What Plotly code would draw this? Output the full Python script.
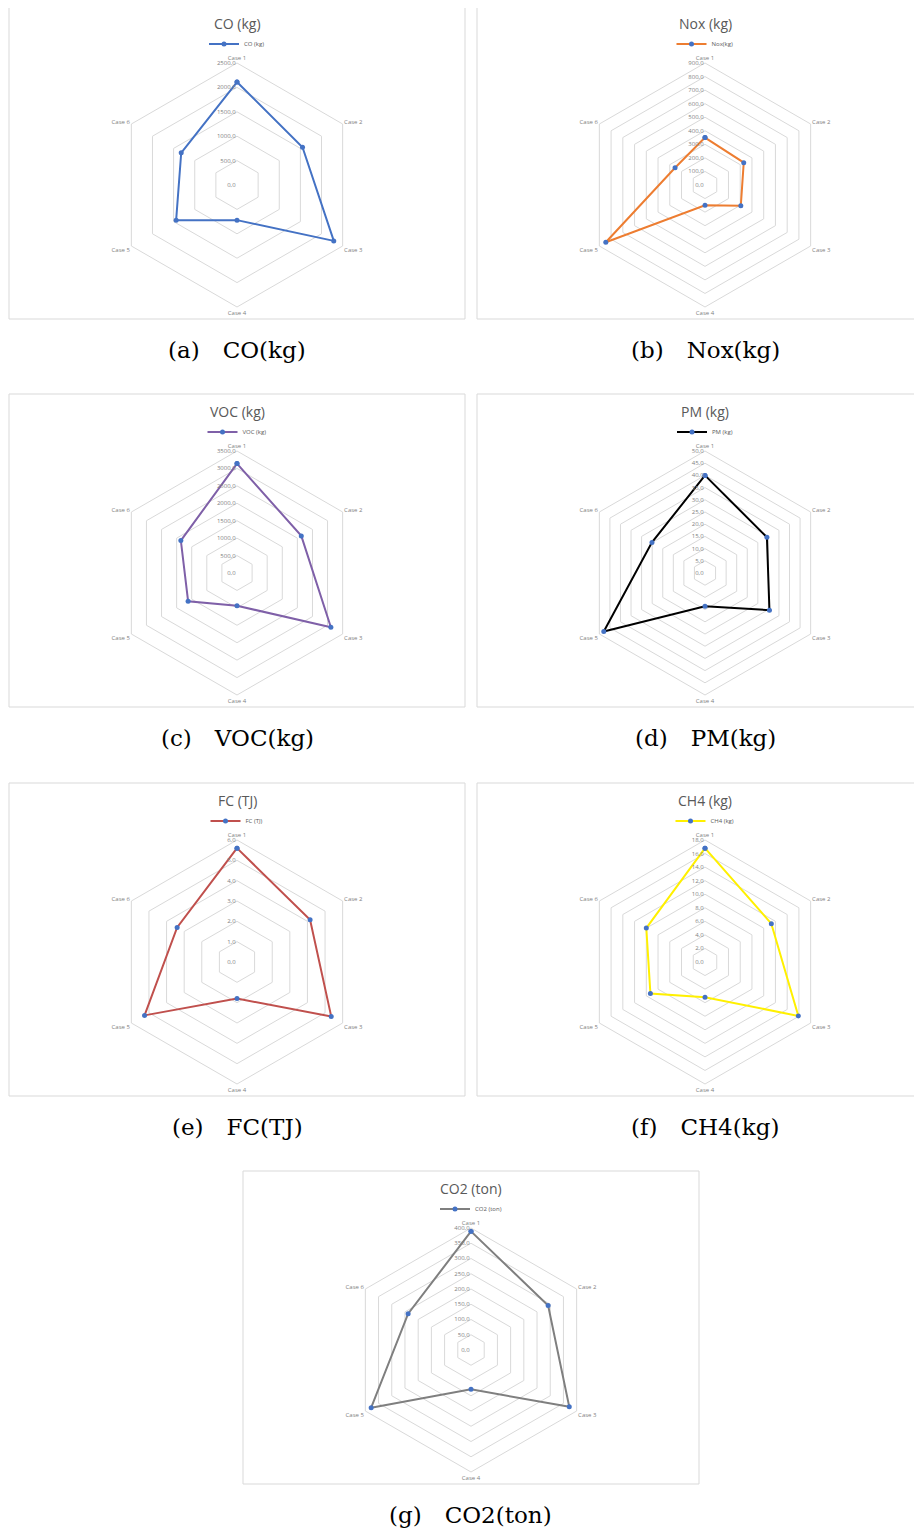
import plotly.graph_objects as go

W, H = 922, 1535
OFF = 8  # page body margin of the html page

cases = ["Case 1", "Case 2", "Case 3", "Case 4", "Case 5", "Case 6"]

co = [2110, 1550, 2290, 720, 1440, 1320]
nox = [350, 330, 305, 150, 845, 255]
voc = [3140, 2130, 3110, 940, 1620, 1860]
pm = [40.0, 29.3, 30.5, 13.6, 47.9, 25.1]
fc = [5.6, 4.15, 5.35, 1.8, 5.25, 3.4]
ch4 = [16.8, 11.3, 15.9, 5.2, 9.3, 10.0]
co2 = [389, 292, 372, 129, 378, 238]

titles = ["CO (kg)", "Nox (kg)", "VOC (kg)", "PM (kg)", "FC (TJ)", "CH4 (kg)", "CO2 (ton)"]
legend_names = ["CO (kg)", "Nox(kg)", "VOC (kg)", "PM (kg)", "FC (TJ)", "CH4 (kg)", "CO2 (ton)"]
captions = ["(a)", "(b)", "(c)", "(d)", "(e)", "(f)", "(g)"]
caption_names = ["CO(kg)", "Nox(kg)", "VOC(kg)", "PM(kg)", "FC(TJ)", "CH4(kg)", "CO2(ton)"]
r_max = [2500, 900, 3500, 50, 6, 18, 400]
r_step = [500, 100, 500, 5, 1, 2, 50]
line_colors = ["#4472C4", "#ED7D31", "#7F60A8", "#000000", "#C0504D", "#FFF000", "#7F7F7F"]
series = [co, nox, voc, pm, fc, ch4, co2]

# panel box top-left corners (px in the target picture)
boxes = [(9, 6), (477, 6), (9, 394), (477, 394), (9, 783), (477, 783), (243, 1171)]
BW, BH, R = 456, 313, 122

fig = go.Figure()
shapes, annotations = [], []
layout = {}


def px(x):
    return (x - OFF) / W


def py(y):
    return 1 - (y - OFF) / H


for i, (vals, (bx, by)) in enumerate(zip(series, boxes)):
    n = i + 1
    cx, cy = bx + 228, by + 179
    pkey = "polar" if n == 1 else f"polar{n}"
    lkey = "legend" if n == 1 else f"legend{n}"

    fig.add_trace(go.Scatterpolar(
        r=vals + vals[:1], theta=cases + cases[:1],
        mode="lines+markers", name=legend_names[i],
        line=dict(color=line_colors[i], width=2),
        marker=dict(color="#4472C4", size=5, symbol="circle"),
        subplot=pkey, legend=lkey, showlegend=True,
    ))

    layout[pkey] = dict(
        domain=dict(x=[px(cx - R), px(cx + R)], y=[py(cy + R), py(cy - R)]),
        bgcolor="white", gridshape="linear",
        radialaxis=dict(range=[0, r_max[i]], dtick=r_step[i], tickformat=".1f",
                        angle=90, side="counterclockwise", tickangle=90,
                        showline=False, ticks="", gridcolor="#D9D9D9", gridwidth=1,
                        tickfont=dict(size=6, color="#7F7F7F", family="Open Sans")),
        angularaxis=dict(rotation=90, direction="clockwise", showgrid=False,
                         linecolor="#D9D9D9", linewidth=1, ticks="",
                         tickfont=dict(size=6, color="#7F7F7F", family="Open Sans")),
    )
    layout[lkey] = dict(x=px(cx), y=py(by + 38), xanchor="center", yanchor="middle",
                        orientation="h", bgcolor="rgba(0,0,0,0)", itemwidth=30,
                        font=dict(size=6, color="#595959", family="Open Sans"))

    shapes.append(dict(type="rect", xref="paper", yref="paper",
                       x0=px(bx), x1=px(bx + BW), y0=py(by + BH), y1=py(by),
                       line=dict(color="#D9D9D9", width=1)))
    annotations.append(dict(text=titles[i], x=px(cx), y=py(by + 17), xref="paper", yref="paper",
                            showarrow=False, xanchor="center", yanchor="middle",
                            font=dict(size=14, color="#595959", family="Open Sans")))
    annotations.append(dict(text=f"{captions[i]}\u2002\u2002{caption_names[i]}",
                            x=px(cx), y=py(by + BH + 31), xref="paper", yref="paper",
                            showarrow=False, xanchor="center", yanchor="middle",
                            font=dict(size=23, color="#000000", family="DejaVu Serif")))

fig.update_layout(
    width=W, height=H, margin=dict(l=0, r=0, t=0, b=0),
    paper_bgcolor="white", separators=",.",
    shapes=shapes, annotations=annotations, **layout,
)

fig.write_html("out.html")
